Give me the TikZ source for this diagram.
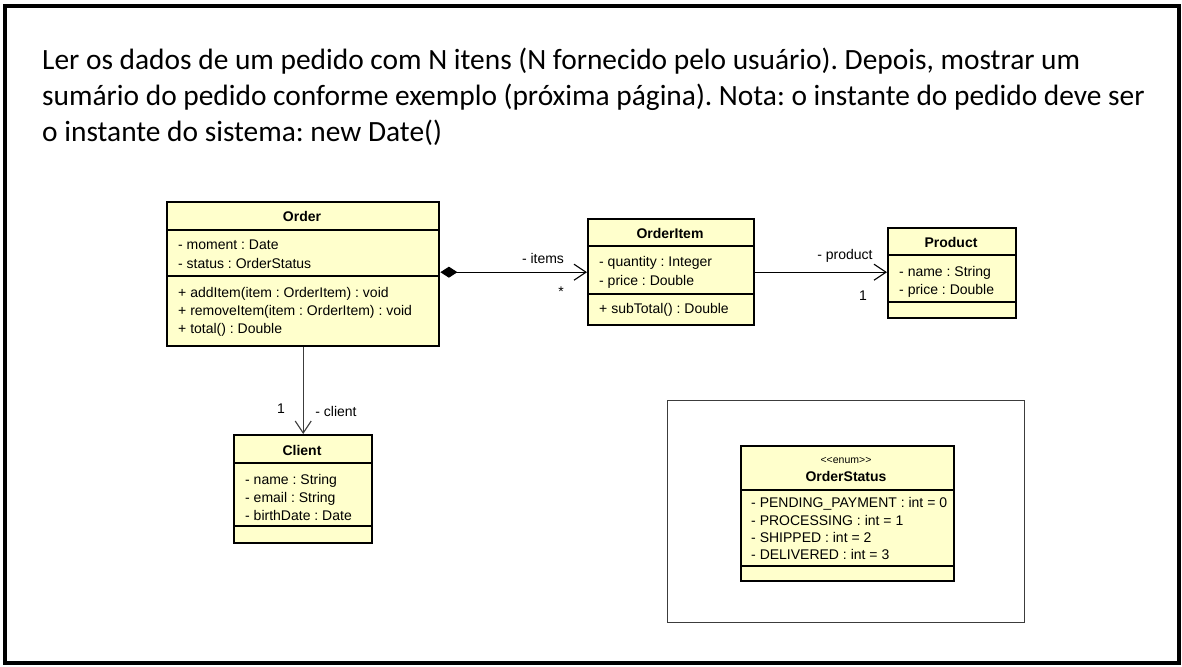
\documentclass[tikz,border=0pt]{standalone}
\usepackage{fontspec}
\setmainfont{Carlito}
\newfontfamily\umlfont{Liberation Sans}
\usetikzlibrary{arrows.meta}
\definecolor{umlfill}{RGB}{255,255,204}
\definecolor{framegray}{RGB}{60,60,60}
\frenchspacing
\tikzset{
  cls/.style={draw=black, line width=2.4pt, fill=umlfill, inner sep=0pt, anchor=north west},
  sep/.style={line width=1.3pt},
  attr/.style={anchor=base west, inner sep=0pt, font=\umlfont\fontsize{14}{16}\selectfont},
  ttl/.style={anchor=base, inner sep=0pt, font=\umlfont\bfseries\fontsize{14}{16}\selectfont},
  stereo/.style={anchor=base, inner sep=0pt, font=\umlfont\fontsize{10.5}{12}\selectfont},
  lbl/.style={inner sep=0pt, font=\umlfont\fontsize{14}{16}\selectfont},
  assoc/.style={line width=1.1pt, -{Straight Barb[length=12pt,width=16pt,line width=1.1pt]}},
  compo/.style={line width=1.1pt, {Diamond[length=17pt,width=11pt]}-{Straight Barb[length=12pt,width=16pt,line width=1.1pt]}},
  titletext/.style={anchor=base west, inner sep=0pt, font=\fontsize{29.4}{36}\selectfont}
}
\begin{document}
\begin{tikzpicture}[x=1pt,y=-1pt]
\useasboundingbox (0,0) rectangle (1182,666);
\node[draw=black, line width=4pt, minimum width=1174pt, minimum height=657pt, inner sep=0pt, anchor=north west] (frame) at (3,4) {};

% title text
\node[titletext] (t1) at (42,70) {Ler os dados de um pedido com N itens (N fornecido pelo usuário). Depois, mostrar um};
\node[titletext] (t2) at (42,106) {sumário do pedido conforme exemplo (próxima página). Nota: o instante do pedido deve ser};
\node[titletext] (t3) at (42,142) {o instante do sistema: new Date()};

% Order
\node[cls, minimum width=272pt, minimum height=144pt] (order) at (166,201) {};
\draw[sep] (166,230) -- (438,230);
\draw[sep] (166,276) -- (438,276);
\node[ttl] (orderT) at (302,221) {Order};
\node[attr] (o1) at (178,249) {- moment : Date};
\node[attr] (o2) at (178,268) {- status : OrderStatus};
\node[attr] (o3) at (178,297) {+ addItem(item : OrderItem) : void};
\node[attr] (o4) at (178,315) {+ removeItem(item : OrderItem) : void};
\node[attr] (o5) at (178,333) {+ total() : Double};

% OrderItem
\node[cls, minimum width=166pt, minimum height=106pt] (item) at (587,218) {};
\draw[sep] (587,246) -- (753,246);
\draw[sep] (587,294) -- (753,294);
\node[ttl] (itemT) at (670,238) {OrderItem};
\node[attr] (i1) at (599,266) {- quantity : Integer};
\node[attr] (i2) at (599,285) {- price : Double};
\node[attr] (i3) at (599,313) {+ subTotal() : Double};

% Product
\node[cls, minimum width=128pt, minimum height=90pt] (product) at (887,227) {};
\draw[sep] (887,255) -- (1015,255);
\draw[sep] (887,302) -- (1015,302);
\node[ttl] (productT) at (951,247) {Product};
\node[attr] (p1) at (899,276) {- name : String};
\node[attr] (p2) at (899,294) {- price : Double};

% Client
\node[cls, minimum width=138pt, minimum height=108pt] (client) at (233,434) {};
\draw[sep] (233,463) -- (371,463);
\draw[sep] (233,526) -- (371,526);
\node[ttl] (clientT) at (302,455) {Client};
\node[attr] (c1) at (245,484) {- name : String};
\node[attr] (c2) at (245,502) {- email : String};
\node[attr] (c3) at (245,520) {- birthDate : Date};

% enum frame
\node[draw=framegray, line width=1pt, minimum width=357pt, minimum height=222pt, inner sep=0pt, anchor=north west] (enumframe) at (667,400) {};
\node[cls, minimum width=213pt, minimum height=135pt] (status) at (740,445) {};
\draw[sep] (740,490) -- (953,490);
\draw[sep] (740,566) -- (953,566);
\node[stereo] (statusS) at (846,463) {<<enum>>};
\node[ttl] (statusT) at (846,481) {OrderStatus};
\node[attr] (s1) at (751,507) {- PENDING\_PAYMENT : int = 0};
\node[attr] (s2) at (751,525) {- PROCESSING : int = 1};
\node[attr] (s3) at (751,542) {- SHIPPED : int = 2};
\node[attr] (s4) at (751,559) {- DELIVERED : int = 3};

% connectors
\draw[compo] (order.east |- item.west) -- (item.west);
\node[lbl] (itemsL) at (543,258) {- items};
\node[lbl] (starL) at (561,292) {*};

\draw[assoc] (item.east) -- (product.west |- item.east);
\node[lbl] (prodL) at (845,256) {- product};
\node[lbl] (oneP) at (863,296) {1};

\draw[assoc, draw=framegray] (order.south) -- (client.north);
\node[lbl] (oneC) at (281,409) {1};
\node[lbl] (clientL) at (336,411) {- client};
\end{tikzpicture}
\end{document}
